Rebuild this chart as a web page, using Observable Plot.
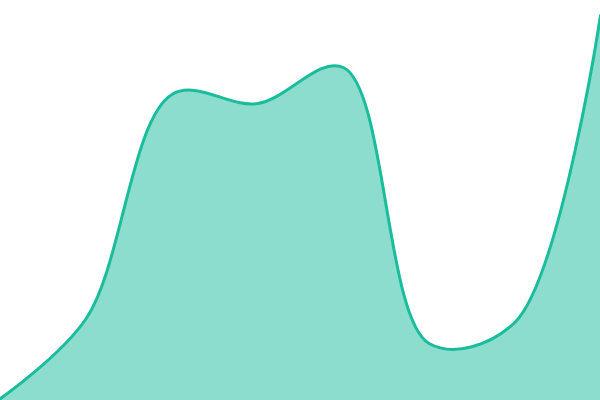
<!DOCTYPE html>
<html><head><meta charset="utf-8">
<script src="https://cdn.jsdelivr.net/npm/d3@7"></script>
<script src="https://cdn.jsdelivr.net/npm/@observablehq/plot@0.6"></script>
<style>body{margin:0;background:#fff}svg{display:block}</style>
</head><body>
<div id="chart"></div>
<script>
const xs = [0, 1, 2, 3, 4, 5, 6, 7];
const values = [2, 82, 306, 297, 333, 57, 78, 385];
const data = xs.map((x, i) => ({x, y: values[i]}));
const chart = Plot.plot({
  width: 600, height: 400,
  margin: 0,
  x: {domain: [0, 7], axis: null},
  y: {domain: [0, 400], axis: null},
  marks: [
    Plot.areaY(data, {x: "x", y: "y", curve: "catmull-rom", fill: "#1abc9c", fillOpacity: 0.5}),
    Plot.lineY(data, {x: "x", y: "y", curve: "catmull-rom", stroke: "#1abc9c", strokeWidth: 3})
  ]
});
document.getElementById("chart").append(chart);
</script>
</body></html>
